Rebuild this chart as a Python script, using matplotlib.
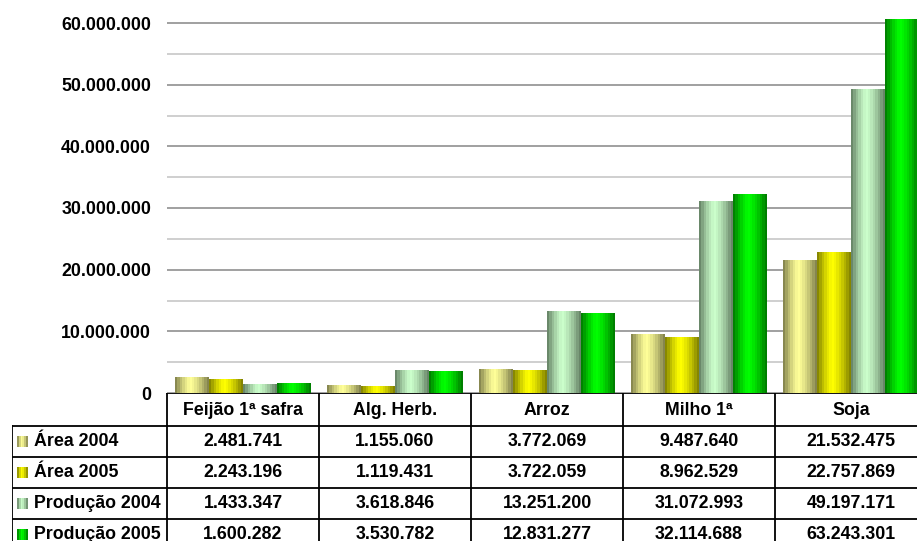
import numpy as np
import matplotlib
matplotlib.use('Agg')
import matplotlib.pyplot as plt
from matplotlib.ticker import FuncFormatter, MultipleLocator

categorias = ['Feijão 1ª safra', 'Alg. Herb.', 'Arroz', 'Milho 1ª', 'Soja']
series = ['Área 2004', 'Área 2005', 'Produção 2004', 'Produção 2005']
area_2004 = [2481741, 1155060, 3772069, 9487640, 21532475]
area_2005 = [2243196, 1119431, 3722059, 8962529, 22757869]
prod_2004 = [1433347, 3618846, 13251200, 31072993, 49197171]
prod_2005 = [1600282, 3530782, 12831277, 32114688, 63243301]
valores = [area_2004, area_2005, prod_2004, prod_2005]

# (cor da borda, cor do centro) para o efeito cilíndrico
cores = [('#7a7a48', '#ffff99'),
         ('#7a7a00', '#ffff00'),
         ('#5f7a5f', '#ccffcc'),
         ('#007300', '#00ff00')]

FONT = 'Liberation Sans'
FS = 12.8


def gradiente(borda, centro, n=14):
    b = np.array(matplotlib.colors.to_rgb(borda))
    c = np.array(matplotlib.colors.to_rgb(centro))
    t = (np.arange(n) + 0.5) / n
    pico = 0.45
    d = np.where(t < pico, (pico - t) / pico, (t - pico) / (1 - pico))
    f = 1 - d ** 1.4
    return (b + (c - b) * f[:, None])[None, :, :]


fmt = lambda v, _: f'{int(v):,}'.replace(',', '.')

W, H = 917, 541
fig = plt.figure(figsize=(W / 100, H / 100), dpi=100)

# área do gráfico (passa da borda direita, como no original)
y0, ytop = 393, 19
ax = fig.add_axes([167 / W, (H - y0) / H, 760 / W, (y0 - ytop) / H])
n = len(categorias)
w = 1 / 4.5
x = np.arange(n)
for j, (vals, (borda, centro)) in enumerate(zip(valores, cores)):
    bars = ax.bar(x + 0.25 * w + j * w, vals, width=w, align='edge',
                  color='none', linewidth=0, zorder=2)
    img = gradiente(borda, centro)
    for p in bars:
        ax.imshow(img, extent=[p.get_x(), p.get_x() + p.get_width(), 0, p.get_height()],
                  aspect='auto', interpolation='nearest', zorder=2)

ax.set_xlim(0, n)
ax.set_ylim(0, 60e6 * (y0 - ytop) / (y0 - 23))
ax.yaxis.set_major_locator(MultipleLocator(10e6))
ax.yaxis.set_minor_locator(MultipleLocator(5e6))
ax.yaxis.set_major_formatter(FuncFormatter(fmt))
ax.grid(axis='y', which='major', color='#999999', lw=1.3, zorder=0)
ax.grid(axis='y', which='minor', color='#cccccc', lw=1.3, zorder=0)
ax.tick_params(axis='y', which='both', length=0, pad=11.5)
ax.set_xticks([])
for lbl in ax.get_yticklabels():
    lbl.set_fontfamily(FONT)
    lbl.set_fontweight('bold')
    lbl.set_fontsize(FS)
for s in ax.spines.values():
    s.set_visible(False)

# tabela de dados
lab_w = 155 / 152
rows = [0, 33, 64, 95, 126, 157]
tx = fig.add_axes([12 / W, (H - y0 - rows[-1]) / H, (155 + 760) / W, rows[-1] / H])
tx.set_xlim(-lab_w, n)
tx.set_ylim(rows[-1], 0)
tx.axis('off')
lk = dict(color='black', lw=1.3, solid_capstyle='projecting')
tx.plot([0, n], [rows[0], rows[0]], **lk)
for r in rows[1:-1]:
    tx.plot([-lab_w, n], [r, r], **lk)
for c in range(n + 1):
    tx.plot([c, c], [0, rows[-1]], **lk)
tx.plot([-lab_w, -lab_w], [rows[1], rows[-1]], **lk)

tk = dict(fontfamily=FONT, fontweight='bold', fontsize=FS, va='center')
for i, cat in enumerate(categorias):
    tx.text(i + 0.5, (rows[0] + rows[1]) / 2 + 1, cat, ha='center', **tk)
for j, (nome, vals, (borda, centro)) in enumerate(zip(series, valores, cores)):
    yc = (rows[j + 1] + rows[j + 2]) / 2
    kx0 = (17 - 167) / 152
    tx.imshow(gradiente(borda, centro, 6), extent=[kx0, kx0 + 11 / 152, yc + 5.5, yc - 5.5],
              aspect='auto', interpolation='nearest')
    tx.text((34 - 167) / 152, yc, nome, ha='left', **tk)
    for i, v in enumerate(vals):
        tx.text(i + 0.5, yc, fmt(v, None), ha='center', **tk)
tx.set_xlim(-lab_w, n)
tx.set_ylim(rows[-1], 0)

fig.savefig('out.png', dpi=100)
